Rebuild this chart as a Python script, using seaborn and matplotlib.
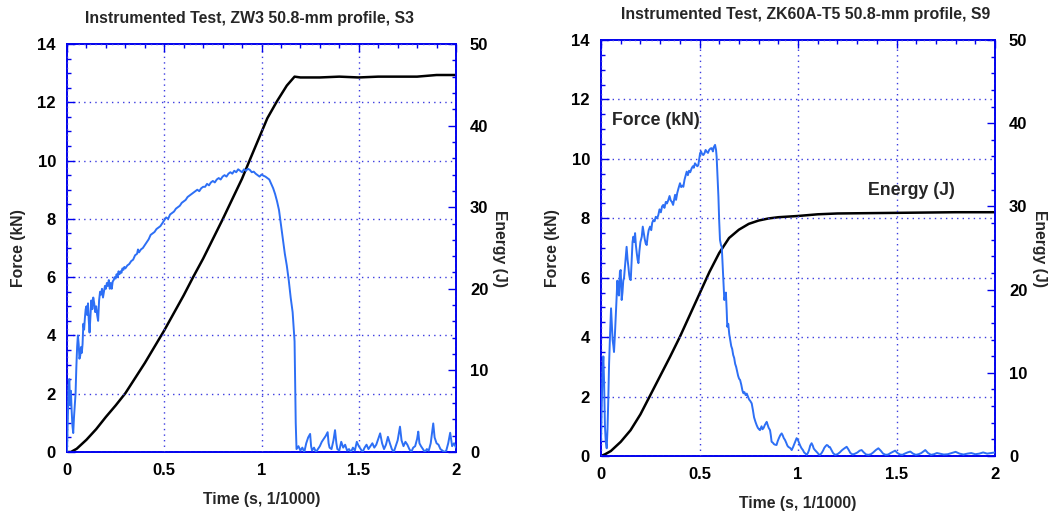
import numpy as np
import pandas as pd
import matplotlib
matplotlib.use("Agg")
import matplotlib.pyplot as plt
from matplotlib.ticker import MultipleLocator
import seaborn as sns

# ---------------- data ----------------
titles = ["Instrumented Test, ZW3 50.8-mm profile, S3",
          "Instrumented Test, ZK60A-T5 50.8-mm profile, S9"]

# Left panel (ZW3) force, kN
tL_force = [0.000, 0.004, 0.008, 0.012, 0.016, 0.020, 0.024, 0.028, 0.032, 0.036, 0.040, 0.044, 0.048, 0.052,
            0.056, 0.060, 0.064, 0.068, 0.072, 0.076, 0.080, 0.084, 0.088, 0.092, 0.096, 0.100, 0.104, 0.108,
            0.112, 0.116, 0.120, 0.125, 0.130, 0.135, 0.140, 0.145, 0.150, 0.155, 0.160, 0.165, 0.170, 0.175,
            0.180, 0.185, 0.190, 0.195, 0.200, 0.205, 0.210, 0.215, 0.220, 0.225, 0.230, 0.235, 0.240, 0.245,
            0.250, 0.255, 0.260, 0.265, 0.270, 0.275, 0.280, 0.285, 0.290, 0.295, 0.300, 0.310, 0.320, 0.330,
            0.340, 0.350, 0.360, 0.365, 0.370, 0.380, 0.390, 0.400, 0.410, 0.420, 0.430, 0.440, 0.450, 0.460,
            0.470, 0.480, 0.490, 0.500, 0.510, 0.520, 0.530, 0.540, 0.550, 0.560, 0.570, 0.580, 0.590, 0.600,
            0.610, 0.620, 0.630, 0.640, 0.650, 0.660, 0.670, 0.680, 0.690, 0.700, 0.710, 0.720, 0.730, 0.740,
            0.750, 0.760, 0.770, 0.780, 0.790, 0.800, 0.810, 0.820, 0.830, 0.840, 0.850, 0.860, 0.870, 0.880,
            0.890, 0.900, 0.910, 0.920, 0.930, 0.940, 0.950, 0.960, 0.970, 0.980, 0.990, 1.000, 1.010, 1.020,
            1.030, 1.040, 1.050, 1.060, 1.070, 1.080, 1.090, 1.100, 1.110, 1.120, 1.130, 1.140, 1.150, 1.160,
            1.165, 1.170, 1.173, 1.176, 1.180, 1.190, 1.200, 1.210, 1.220, 1.230, 1.240, 1.250, 1.255, 1.260,
            1.270, 1.280, 1.290, 1.300, 1.310, 1.320, 1.330, 1.340, 1.345, 1.350, 1.360, 1.370, 1.378, 1.385,
            1.390, 1.400, 1.410, 1.420, 1.430, 1.440, 1.450, 1.460, 1.470, 1.480, 1.490, 1.500, 1.510, 1.520,
            1.530, 1.540, 1.550, 1.560, 1.570, 1.580, 1.590, 1.600, 1.610, 1.620, 1.630, 1.640, 1.650, 1.660,
            1.670, 1.680, 1.690, 1.700, 1.712, 1.720, 1.730, 1.740, 1.750, 1.760, 1.770, 1.780, 1.790, 1.800,
            1.806, 1.812, 1.820, 1.830, 1.840, 1.850, 1.860, 1.870, 1.883, 1.890, 1.900, 1.910, 1.920, 1.930,
            1.940, 1.950, 1.960, 1.970, 1.980, 1.990, 2.000]
fL = [0.05, 1.2, 2.2, 2.5, 1.6, 2.1, 1.4, 0.9, 0.65, 1.2, 1.6, 2.0, 2.9, 3.6,
      4.0, 3.7, 3.2, 3.3, 3.6, 3.4, 3.7, 4.4, 4.2, 4.6, 4.9, 5.0, 4.7, 5.1,
      4.5, 4.1, 4.6, 5.2, 4.9, 5.3, 5.1, 4.8, 5.0, 4.7, 4.5, 5.2, 5.5, 5.4,
      5.6, 5.3, 5.5, 5.7, 5.6, 5.8, 5.7, 5.9, 5.6, 5.8, 5.6, 5.85, 5.9, 6.0,
      5.95, 6.1, 6.0, 6.2, 6.1, 6.2, 6.15, 6.3, 6.25, 6.35, 6.3, 6.4, 6.45, 6.55,
      6.6, 6.75, 6.8, 6.95, 6.85, 6.95, 7.0, 7.1, 7.2, 7.3, 7.45, 7.5, 7.55, 7.65,
      7.7, 7.75, 7.85, 7.95, 8.05, 8.0, 8.15, 8.2, 8.25, 8.35, 8.4, 8.45, 8.55, 8.6,
      8.65, 8.75, 8.8, 8.85, 8.9, 8.95, 9.0, 8.95, 9.05, 9.1, 9.1, 9.2, 9.15, 9.25,
      9.3, 9.25, 9.35, 9.4, 9.35, 9.45, 9.5, 9.45, 9.55, 9.6, 9.55, 9.65, 9.6, 9.7,
      9.65, 9.6, 9.7, 9.65, 9.72, 9.68, 9.6, 9.62, 9.55, 9.5, 9.45, 9.52, 9.48, 9.45,
      9.4, 9.35, 9.2, 9.05, 8.85, 8.6, 8.3, 7.8, 7.3, 6.8, 6.4, 5.9, 5.3, 4.8,
      4.3, 3.8, 2.5, 1.0, 0.1, 0.2, 0.05, 0.15, 0.0, 0.3, 0.5, 0.62, 0.2, 0.05,
      0.15, 0.0, 0.1, 0.2, 0.35, 0.45, 0.55, 0.68, 0.3, 0.15, 0.1, 0.4, 0.75, 0.3,
      0.1, 0.05, 0.35, 0.15, 0.25, 0.05, 0.1, 0.0, 0.15, 0.05, 0.35, 0.2, 0.1, 0.0,
      0.15, 0.25, 0.1, 0.2, 0.3, 0.15, 0.25, 0.45, 0.64, 0.3, 0.1, 0.25, 0.52, 0.3,
      0.1, 0.0, 0.2, 0.4, 0.87, 0.4, 0.2, 0.35, 0.25, 0.1, 0.0, 0.15, 0.2, 0.45,
      0.7, 0.3, 0.2, 0.1, 0.0, 0.1, 0.05, 0.3, 0.98, 0.5, 0.3, 0.25, 0.1, 0.05,
      0.0, 0.05, 0.3, 0.66, 0.2, 0.3, 0.15]

# Left panel energy, J
tL_energy = [0, 0.02, 0.05, 0.1, 0.15, 0.2, 0.25, 0.3, 0.4, 0.5, 0.6, 0.65, 0.7, 0.8, 0.9, 0.94,
             1.0, 1.03, 1.08, 1.13, 1.17, 1.2, 1.3, 1.4, 1.5, 1.6, 1.7, 1.8, 1.9, 2.0]
eL = [0, 0, 0.4, 1.5, 2.8, 4.3, 5.7, 7.2, 10.9, 14.9, 19.2, 21.5, 23.7, 28.5, 33.5, 35.8,
      39.2, 40.9, 43.0, 44.9, 46.0, 45.9, 45.9, 46.0, 45.9, 46.0, 46.0, 46.0, 46.2, 46.2]

# Right panel (ZK60A-T5) force, kN
tR_force = [0.000, 0.004, 0.008, 0.012, 0.016, 0.020, 0.024, 0.029, 0.033, 0.037, 0.041, 0.046, 0.051, 0.055,
            0.059, 0.063, 0.066, 0.070, 0.075, 0.079, 0.083, 0.087, 0.091, 0.096, 0.100, 0.105, 0.109, 0.113,
            0.117, 0.122, 0.126, 0.130, 0.135, 0.139, 0.143, 0.147, 0.151, 0.156, 0.160, 0.164, 0.169, 0.173,
            0.177, 0.182, 0.186, 0.190, 0.195, 0.200, 0.207, 0.212, 0.217, 0.222, 0.227, 0.232, 0.237, 0.242,
            0.249, 0.255, 0.260, 0.266, 0.272, 0.278, 0.285, 0.291, 0.297, 0.304, 0.310, 0.316, 0.322, 0.329,
            0.335, 0.342, 0.348, 0.354, 0.360, 0.366, 0.372, 0.376, 0.381, 0.387, 0.393, 0.401, 0.407, 0.413,
            0.418, 0.424, 0.430, 0.435, 0.441, 0.447, 0.453, 0.460, 0.466, 0.471, 0.477, 0.483, 0.489, 0.494,
            0.499, 0.503, 0.508, 0.514, 0.520, 0.526, 0.531, 0.537, 0.543, 0.549, 0.556, 0.562, 0.568, 0.573,
            0.579, 0.584, 0.587, 0.591, 0.596, 0.600, 0.604, 0.609, 0.613, 0.617, 0.621, 0.626, 0.630, 0.634,
            0.638, 0.641, 0.646, 0.651, 0.656, 0.661, 0.666, 0.671, 0.676, 0.681, 0.686, 0.691, 0.696, 0.701,
            0.706, 0.712, 0.718, 0.723, 0.728, 0.734, 0.740, 0.746, 0.752, 0.758, 0.765, 0.771, 0.777, 0.784,
            0.790, 0.796, 0.802, 0.807, 0.812, 0.815, 0.820, 0.826, 0.832, 0.837, 0.841, 0.846, 0.851, 0.858,
            0.862, 0.866, 0.872, 0.878, 0.884, 0.891, 0.897, 0.903, 0.910, 0.917, 0.922, 0.928, 0.934, 0.940,
            0.946, 0.952, 0.958, 0.963, 0.968, 0.975, 0.981, 0.987, 0.993, 0.999, 1.005, 1.011, 1.018, 1.025,
            1.031, 1.038, 1.044, 1.050, 1.056, 1.062, 1.069, 1.075, 1.080, 1.086, 1.093, 1.100, 1.106, 1.112,
            1.120, 1.127, 1.134, 1.140, 1.146, 1.152, 1.157, 1.162, 1.170, 1.178, 1.188, 1.200, 1.212, 1.224,
            1.236, 1.247, 1.256, 1.266, 1.278, 1.290, 1.302, 1.313, 1.323, 1.334, 1.346, 1.358, 1.370, 1.382,
            1.395, 1.408, 1.420, 1.432, 1.445, 1.458, 1.470, 1.482, 1.493, 1.505, 1.518, 1.530, 1.542, 1.556,
            1.570, 1.584, 1.598, 1.612, 1.626, 1.646, 1.660, 1.675, 1.690, 1.705, 1.720, 1.740, 1.760, 1.780,
            1.800, 1.820, 1.840, 1.860, 1.880, 1.900, 1.920, 1.940, 1.960, 1.980, 2.000]
fR = [0.5, 1.8, 2.9, 3.35, 2.4, 1.0, 0.5, 0.26, 0.9, 1.9, 3.1, 4.1, 4.97, 4.4,
      3.9, 3.7, 3.5, 4.0, 4.7, 5.3, 5.9, 5.5, 5.4, 6.2, 6.26, 5.25, 5.5, 5.9,
      6.0, 6.4, 6.7, 7.04, 6.6, 6.37, 6.1, 5.95, 5.92, 6.6, 7.2, 7.38, 7.2, 7.5,
      7.1, 6.8, 6.6, 6.49, 6.9, 7.2, 7.38, 7.72, 7.5, 7.3, 7.15, 7.1, 7.4, 7.6,
      7.72, 7.6, 7.85, 7.94, 7.9, 8.05, 8.0, 8.11, 8.3, 8.2, 8.4, 8.45, 8.35, 8.55,
      8.5, 8.62, 8.75, 8.6, 8.55, 8.45, 8.65, 8.79, 8.62, 8.85, 9.0, 9.18, 9.05, 9.1,
      9.06, 9.3, 9.45, 9.57, 9.45, 9.6, 9.55, 9.68, 9.75, 9.7, 9.85, 9.8, 9.75, 9.79,
      10.0, 10.19, 10.25, 10.15, 10.13, 10.2, 10.3, 10.24, 10.2, 10.3, 10.35, 10.36, 10.25, 10.4,
      10.47, 10.3, 10.07, 9.5, 8.73, 7.9, 7.27, 7.1, 7.04, 6.5, 5.92, 5.25, 5.4, 5.5,
      4.9, 4.35, 4.45, 4.1, 3.9, 3.7, 3.6, 3.4, 3.3, 3.1, 3.0, 2.85, 2.7, 2.6,
      2.56, 2.4, 2.2, 2.11, 2.15, 2.05, 2.1, 2.0, 1.9, 1.85, 1.77, 1.55, 1.3, 1.15,
      1.04, 0.95, 0.9, 0.87, 0.95, 1.0, 0.9, 0.95, 1.05, 1.1, 1.15, 1.05, 0.95, 0.87,
      0.7, 0.48, 0.45, 0.4, 0.38, 0.37, 0.5, 0.6, 0.7, 0.76, 0.7, 0.6, 0.54, 0.45,
      0.35, 0.3, 0.28, 0.25, 0.2, 0.3, 0.4, 0.5, 0.6, 0.55, 0.45, 0.35, 0.26, 0.2,
      0.12, 0.08, 0.04, 0.1, 0.2, 0.35, 0.43, 0.35, 0.25, 0.2, 0.15, 0.1, 0.05, 0.04,
      0.1, 0.18, 0.28, 0.33, 0.37, 0.35, 0.3, 0.3, 0.2, 0.1, 0.04, 0.06, 0.12, 0.2,
      0.26, 0.31, 0.22, 0.1, 0.05, 0.08, 0.12, 0.18, 0.2, 0.12, 0.05, 0.04, 0.06, 0.12,
      0.2, 0.26, 0.18, 0.08, 0.04, 0.05, 0.1, 0.14, 0.18, 0.1, 0.05, 0.04, 0.08, 0.12,
      0.15, 0.08, 0.04, 0.06, 0.1, 0.2, 0.1, 0.04, 0.06, 0.1, 0.08, 0.05, 0.06, 0.1,
      0.14, 0.08, 0.05, 0.08, 0.1, 0.06, 0.08, 0.12, 0.08, 0.1, 0.12]

# Right panel energy, J
tR_energy = [0, 0.02, 0.05, 0.1, 0.15, 0.2, 0.25, 0.3, 0.35, 0.4, 0.45, 0.5, 0.55, 0.6, 0.65, 0.7,
             0.75, 0.8, 0.85, 0.9, 1.0, 1.1, 1.2, 1.4, 1.6, 1.8, 2.0]
eR = [0, 0.2, 0.6, 1.7, 3.1, 5.0, 7.3, 9.6, 11.9, 14.3, 16.9, 19.5, 22.1, 24.4, 26.2, 27.2,
      27.9, 28.3, 28.55, 28.7, 28.85, 29.05, 29.15, 29.2, 29.25, 29.3, 29.3]

force_ticks = [0, 2, 4, 6, 8, 10, 12, 14]
energy_ticks = [0, 10, 20, 30, 40, 50]
time_ticks = [0, 0.5, 1, 1.5, 2]
time_tick_labels = ["0", "0.5", "1", "1.5", "2"]

# ---------------- style ----------------
sns.set_style("white")
plt.rcParams['font.family'] = ['Liberation Sans', 'DejaVu Sans']
plt.rcParams['font.weight'] = 'bold'

FORCE_C = "#2d6ff5"
SPINE_C = "#0000ee"
GRID_C = "#3b3be0"
TICK_FS = 12
LABEL_FS = 11.3
TITLE_FS = 11.4
NOTE_FS = 12.8

fig = plt.figure(figsize=(10.51, 5.11), dpi=100)
ax_boxes = [[67/1051, 1-452/511, (456-67)/1051, (452-44)/511],
            [601/1051, 1-456/511, (995-601)/1051, (456-40)/511]]
title_x = [0.468, 0.52]
energy_label_x = [1.131, 1.132]

panels = [(tL_force, fL, tL_energy, eL), (tR_force, fR, tR_energy, eR)]

for i, (tf, ff, te, ee) in enumerate(panels):
    ax = fig.add_axes(ax_boxes[i])
    ax2 = ax.twinx()
    dff = pd.DataFrame({"t": tf, "F": ff})
    dfe = pd.DataFrame({"t": te, "E": ee})
    sns.lineplot(data=dff, x="t", y="F", ax=ax, color=FORCE_C, linewidth=1.4,
                 estimator=None, sort=False, zorder=3)
    sns.lineplot(data=dfe, x="t", y="E", ax=ax2, color="black", linewidth=1.8,
                 estimator=None, sort=False)
    ax.set_xlim(0, 2)
    ax.set_ylim(0, 14)
    ax2.set_ylim(0, 50)
    ax.set_xticks(time_ticks)
    ax.set_xticklabels(time_tick_labels)
    ax.set_yticks(force_ticks)
    ax2.set_yticks(energy_ticks)
    ax.xaxis.set_minor_locator(MultipleLocator(0.1))
    ax.yaxis.set_minor_locator(MultipleLocator(0.5))
    ax2.yaxis.set_minor_locator(MultipleLocator(2))
    ax.grid(True, which="major", color=GRID_C, linestyle=(0, (1, 3)), linewidth=1.0)
    ax.set_axisbelow(False)
    for a in (ax, ax2):
        for sp in a.spines.values():
            sp.set_color(SPINE_C)
            sp.set_linewidth(1.2)
    ax.tick_params(axis="both", which="both", direction="in", colors=SPINE_C,
                   labelcolor="black", top=True, labelsize=TICK_FS)
    ax.tick_params(which="major", length=6, width=1, pad=8)
    ax.tick_params(which="minor", length=3, width=1)
    ax2.tick_params(axis="y", which="both", direction="in", colors=SPINE_C,
                    labelcolor="black", labelsize=TICK_FS)
    ax2.tick_params(which="major", length=6, width=1, pad=10)
    ax2.tick_params(which="minor", length=3, width=1)
    for lab in ax.get_xticklabels() + ax.get_yticklabels() + ax2.get_yticklabels():
        lab.set_fontweight("bold")
    ax.set_xlabel("Time (s, 1/1000)", fontsize=LABEL_FS, fontweight="bold", labelpad=10)
    ax.set_ylabel("Force (kN)", fontsize=LABEL_FS, fontweight="bold", labelpad=8)
    ax2.set_ylabel("Energy (J)", fontsize=LABEL_FS, fontweight="bold", rotation=270, labelpad=8)
    ax2.yaxis.set_label_coords(energy_label_x[i], 0.5)
    ax.set_title(titles[i], fontsize=TITLE_FS, fontweight="bold", pad=15, x=title_x[i])
    ax.set_zorder(ax2.get_zorder() + 1)
    ax.patch.set_visible(False)
    if i == 1:
        ax.text(0.056, 11.3, "Force (kN)", fontsize=NOTE_FS, fontweight="bold", ha="left", va="center")
        ax.text(1.355, 8.92, "Energy (J)", fontsize=NOTE_FS, fontweight="bold", ha="left", va="center")

fig.savefig("out.png", dpi=100, facecolor="white")
